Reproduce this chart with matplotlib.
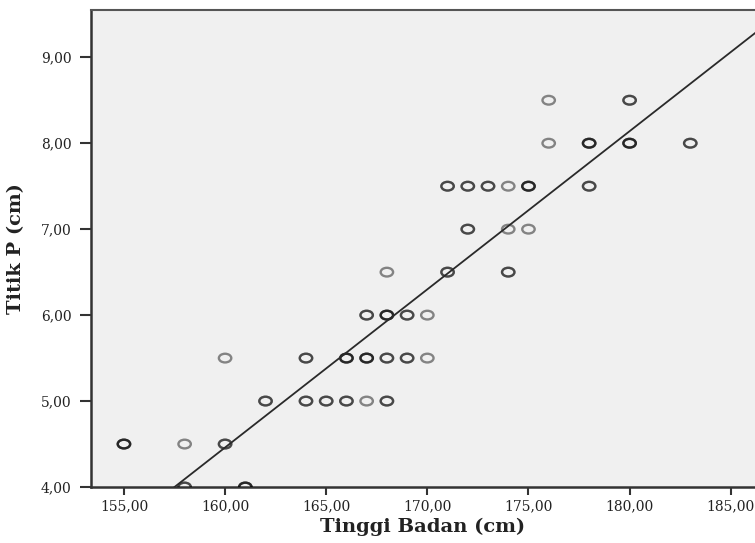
import numpy as np
import matplotlib
matplotlib.use("Agg")
import matplotlib.pyplot as plt
from matplotlib.ticker import FuncFormatter
from matplotlib.path import Path
from matplotlib.transforms import Affine2D

# Tinggi Badan (cm), Titik P (cm), and number of overlapping cases per point
tinggi = [158, 161,
          155, 158, 160,
          162, 164, 165, 166, 167, 168,
          160, 164, 166, 167, 168, 169, 170,
          167, 168, 169, 170,
          168, 171, 174,
          172, 174, 175,
          171, 172, 173, 174, 175, 178,
          176, 178, 180, 183,
          176, 180]
titik = [4.0, 4.0,
         4.5, 4.5, 4.5,
         5.0, 5.0, 5.0, 5.0, 5.0, 5.0,
         5.5, 5.5, 5.5, 5.5, 5.5, 5.5, 5.5,
         6.0, 6.0, 6.0, 6.0,
         6.5, 6.5, 6.5,
         7.0, 7.0, 7.0,
         7.5, 7.5, 7.5, 7.5, 7.5, 7.5,
         8.0, 8.0, 8.0, 8.0,
         8.5, 8.5]
jumlah = [2, 3,
          3, 1, 2,
          2, 2, 2, 2, 1, 2,
          1, 2, 3, 3, 2, 2, 1,
          2, 3, 2, 1,
          1, 2, 2,
          2, 1, 1,
          2, 2, 2, 1, 3, 2,
          1, 3, 3, 2,
          1, 2]

# fit line
fit_x0, fit_y0, fit_slope = 157.5, 4.0, 0.184

x_ticks = [155, 160, 165, 170, 175, 180, 185]
y_ticks = [4, 5, 6, 7, 8, 9]
x_lim = (153.37, 186.2)
y_lim = (4.0, 9.55)

fig = plt.figure(figsize=(7.55, 5.43), dpi=100)
ax = fig.add_axes([0.1205, 0.1031, 0.8795, 0.8785])
ax.set_facecolor("#f0f0f0")

# SPSS draws slightly flattened rings
ring = Path.unit_circle().transformed(Affine2D().scale(1.0, 0.7))

# overlapping cases darken the ring
for xv, yv, n in zip(tinggi, titik, jumlah):
    for _ in range(n):
        ax.scatter(xv, yv, s=80, marker=ring, facecolors="none", edgecolors="black",
                   linewidths=1.7, alpha=0.45, zorder=3)

xs = np.array(x_lim)
ax.plot(xs, fit_y0 + fit_slope * (xs - fit_x0), color="#2a2a2a", lw=1.3, zorder=4)

ax.set_xlim(*x_lim)
ax.set_ylim(*y_lim)
ax.set_xticks(x_ticks)
ax.set_yticks(y_ticks)
fmt = FuncFormatter(lambda v, p: f"{v:.2f}".replace(".", ","))
ax.xaxis.set_major_formatter(fmt)
ax.yaxis.set_major_formatter(fmt)

for lab in ax.get_xticklabels() + ax.get_yticklabels():
    lab.set_family("DejaVu Serif")
    lab.set_fontsize(10)
    lab.set_color("#222222")
ax.tick_params(axis="both", direction="out", width=1.5, color="#333333")
ax.tick_params(axis="y", length=8, pad=6)
ax.tick_params(axis="x", length=6, pad=3)

ax.spines["left"].set_linewidth(1.8)
ax.spines["left"].set_color("#333333")
ax.spines["bottom"].set_linewidth(1.8)
ax.spines["bottom"].set_color("#333333")
ax.spines["top"].set_linewidth(1.5)
ax.spines["top"].set_color("#555555")
ax.spines["right"].set_visible(False)

ax.set_xlabel("Tinggi Badan (cm)", family="DejaVu Serif", fontsize=14,
              fontweight="bold", color="#222222", labelpad=3)
ax.set_ylabel("Titik P (cm)", family="DejaVu Serif", fontsize=14,
              fontweight="bold", color="#222222", labelpad=11)

fig.savefig("out.png", dpi=100)
